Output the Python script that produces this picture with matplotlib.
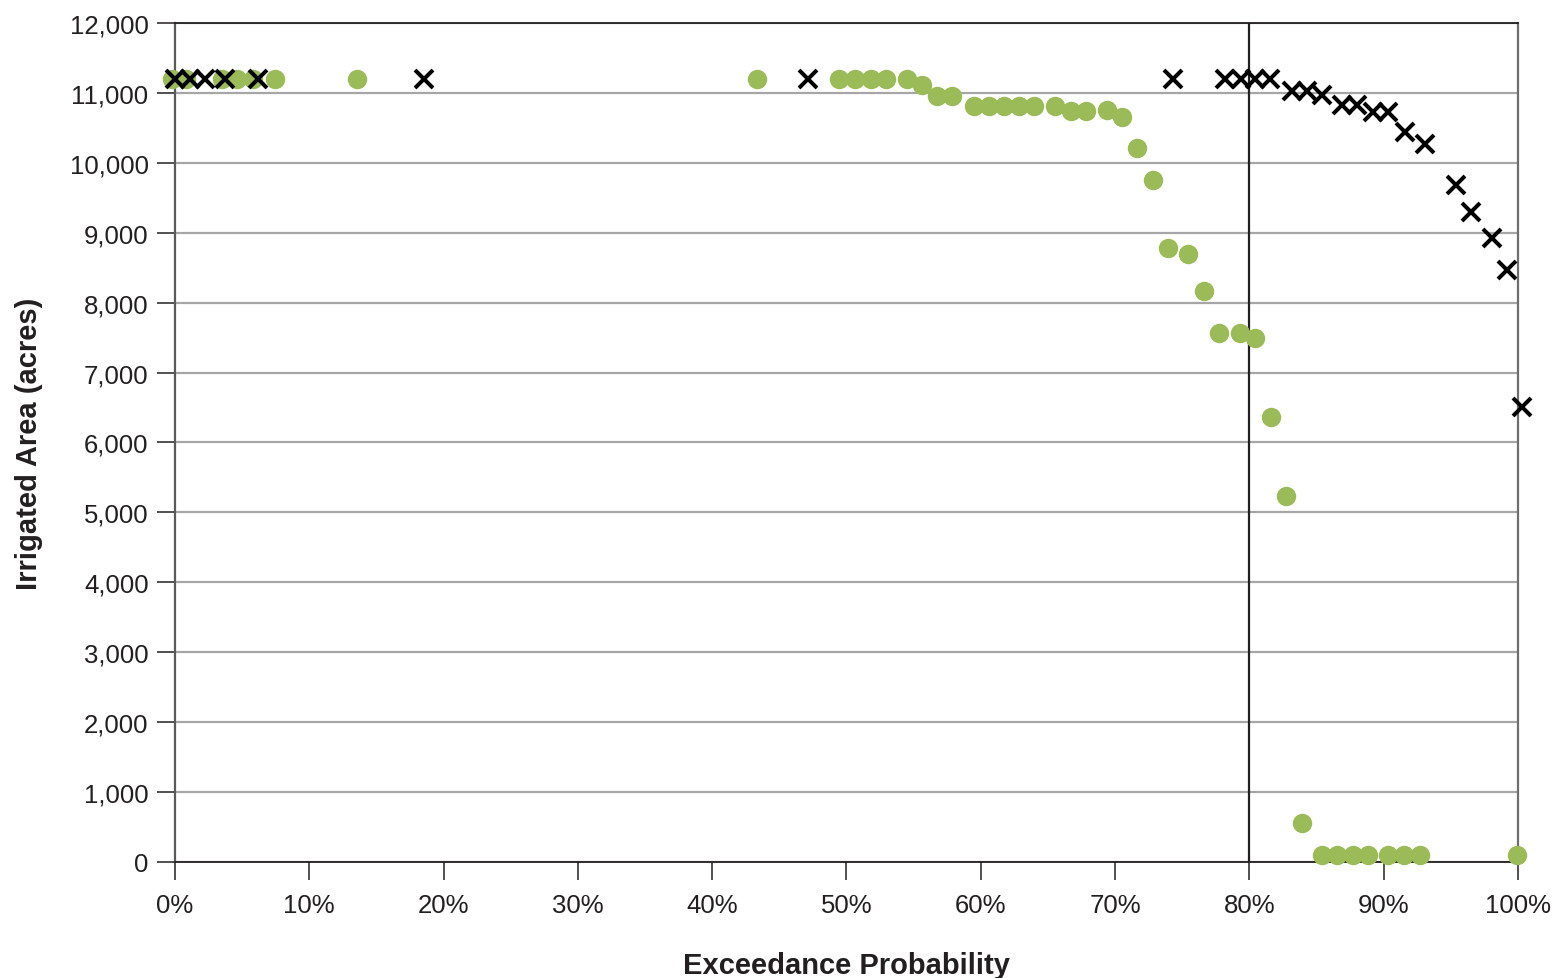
import matplotlib
matplotlib.use("Agg")
import matplotlib.pyplot as plt
from matplotlib.ticker import FuncFormatter

plt.rcParams['font.family'] = ['Liberation Sans', 'DejaVu Sans']

# Green circles series (exceedance probability %, irrigated area acres)
green_x = [-0.25, 0.8, 3.48, 4.6, 5.8, 7.45, 13.55, 43.36,
           49.46, 50.63, 51.8, 52.92, 54.48, 55.6, 56.71, 57.88,
           59.5, 60.6, 61.75, 62.87, 63.98, 65.5, 66.7, 67.83,
           69.37, 70.49, 71.6, 72.8, 73.94, 75.43, 76.62, 77.74,
           79.3, 80.42, 81.59, 82.72, 83.9, 85.38, 86.52, 87.69,
           88.83, 90.32, 91.51, 92.7, 99.93]
green_y = [11200, 11200, 11200, 11200, 11200, 11200, 11200, 11200,
           11200, 11200, 11200, 11200, 11200, 11120, 10960, 10960,
           10810, 10810, 10810, 10810, 10810, 10810, 10740, 10740,
           10750, 10660, 10215, 9760, 8780, 8700, 8173, 7568,
           7568, 7496, 6362, 5232, 553, 100, 100, 100,
           100, 100, 100, 100, 100]

# Black cross series
cross_x = [0.0, 1.12, 2.23, 3.72, 6.2, 18.54, 47.16, 74.33,
           78.18, 79.37, 80.42, 81.55, 83.15, 84.27, 85.38, 86.87,
           87.99, 89.22, 90.34, 91.59, 93.08, 95.36, 96.5, 98.04,
           99.16, 100.3]
cross_y = [11200, 11200, 11200, 11200, 11200, 11200, 11200, 11200,
           11200, 11200, 11200, 11200, 11034, 11034, 10973, 10820,
           10820, 10734, 10734, 10439, 10272, 9685, 9303, 8927,
           8474, 6505]

x_ticks = [0, 10, 20, 30, 40, 50, 60, 70, 80, 90, 100]
y_ticks = list(range(0, 12001, 1000))
ref_line_x = 80

fig = plt.figure(figsize=(15.54, 9.79), dpi=100)
ax = fig.add_axes([0.1126, 0.1185, 0.8642, 0.857])

text_color = '#231f20'

ax.set_xlim(0, 100)
ax.set_ylim(0, 12000)
ax.set_xticks(x_ticks)
ax.set_yticks(y_ticks)
ax.xaxis.set_major_formatter(FuncFormatter(lambda v, p: f"{int(round(v))}%"))
ax.yaxis.set_major_formatter(FuncFormatter(lambda v, p: f"{int(v):,}"))

ax.grid(axis='y', color='#a6a6a6', linewidth=1.6, zorder=0)
ax.set_axisbelow(True)

ax.axvline(ref_line_x, color='#231f20', linewidth=1.6, zorder=1)

ax.plot(green_x, green_y, linestyle='none', marker='o', markersize=14,
        color='#9bbb59', markeredgewidth=0, zorder=3, clip_on=False)
ax.plot(cross_x, cross_y, linestyle='none', marker='x', markersize=13.5,
        color='black', markeredgewidth=2.9, zorder=4, clip_on=False)

for s in ['top', 'bottom']:
    ax.spines[s].set_color('#231f20')
    ax.spines[s].set_linewidth(1.3)
ax.spines['left'].set_color('#595959')
ax.spines['left'].set_linewidth(1.6)
ax.spines['right'].set_color('#6e6e6e')
ax.spines['right'].set_linewidth(1.6)

ax.tick_params(axis='x', direction='out', length=13, width=1.1, color='#231f20',
               labelsize=18.5, labelcolor=text_color, pad=9)
ax.tick_params(axis='y', direction='out', length=13, width=1.1, color='#231f20',
               labelsize=18.5, labelcolor=text_color, pad=6)

ax.set_xlabel('Exceedance Probability', fontsize=21, fontweight='bold',
              color=text_color, labelpad=25)
ax.set_ylabel('Irrigated Area (acres)', fontsize=21, fontweight='bold',
              color=text_color, labelpad=19)

fig.savefig('out.png', dpi=100)
